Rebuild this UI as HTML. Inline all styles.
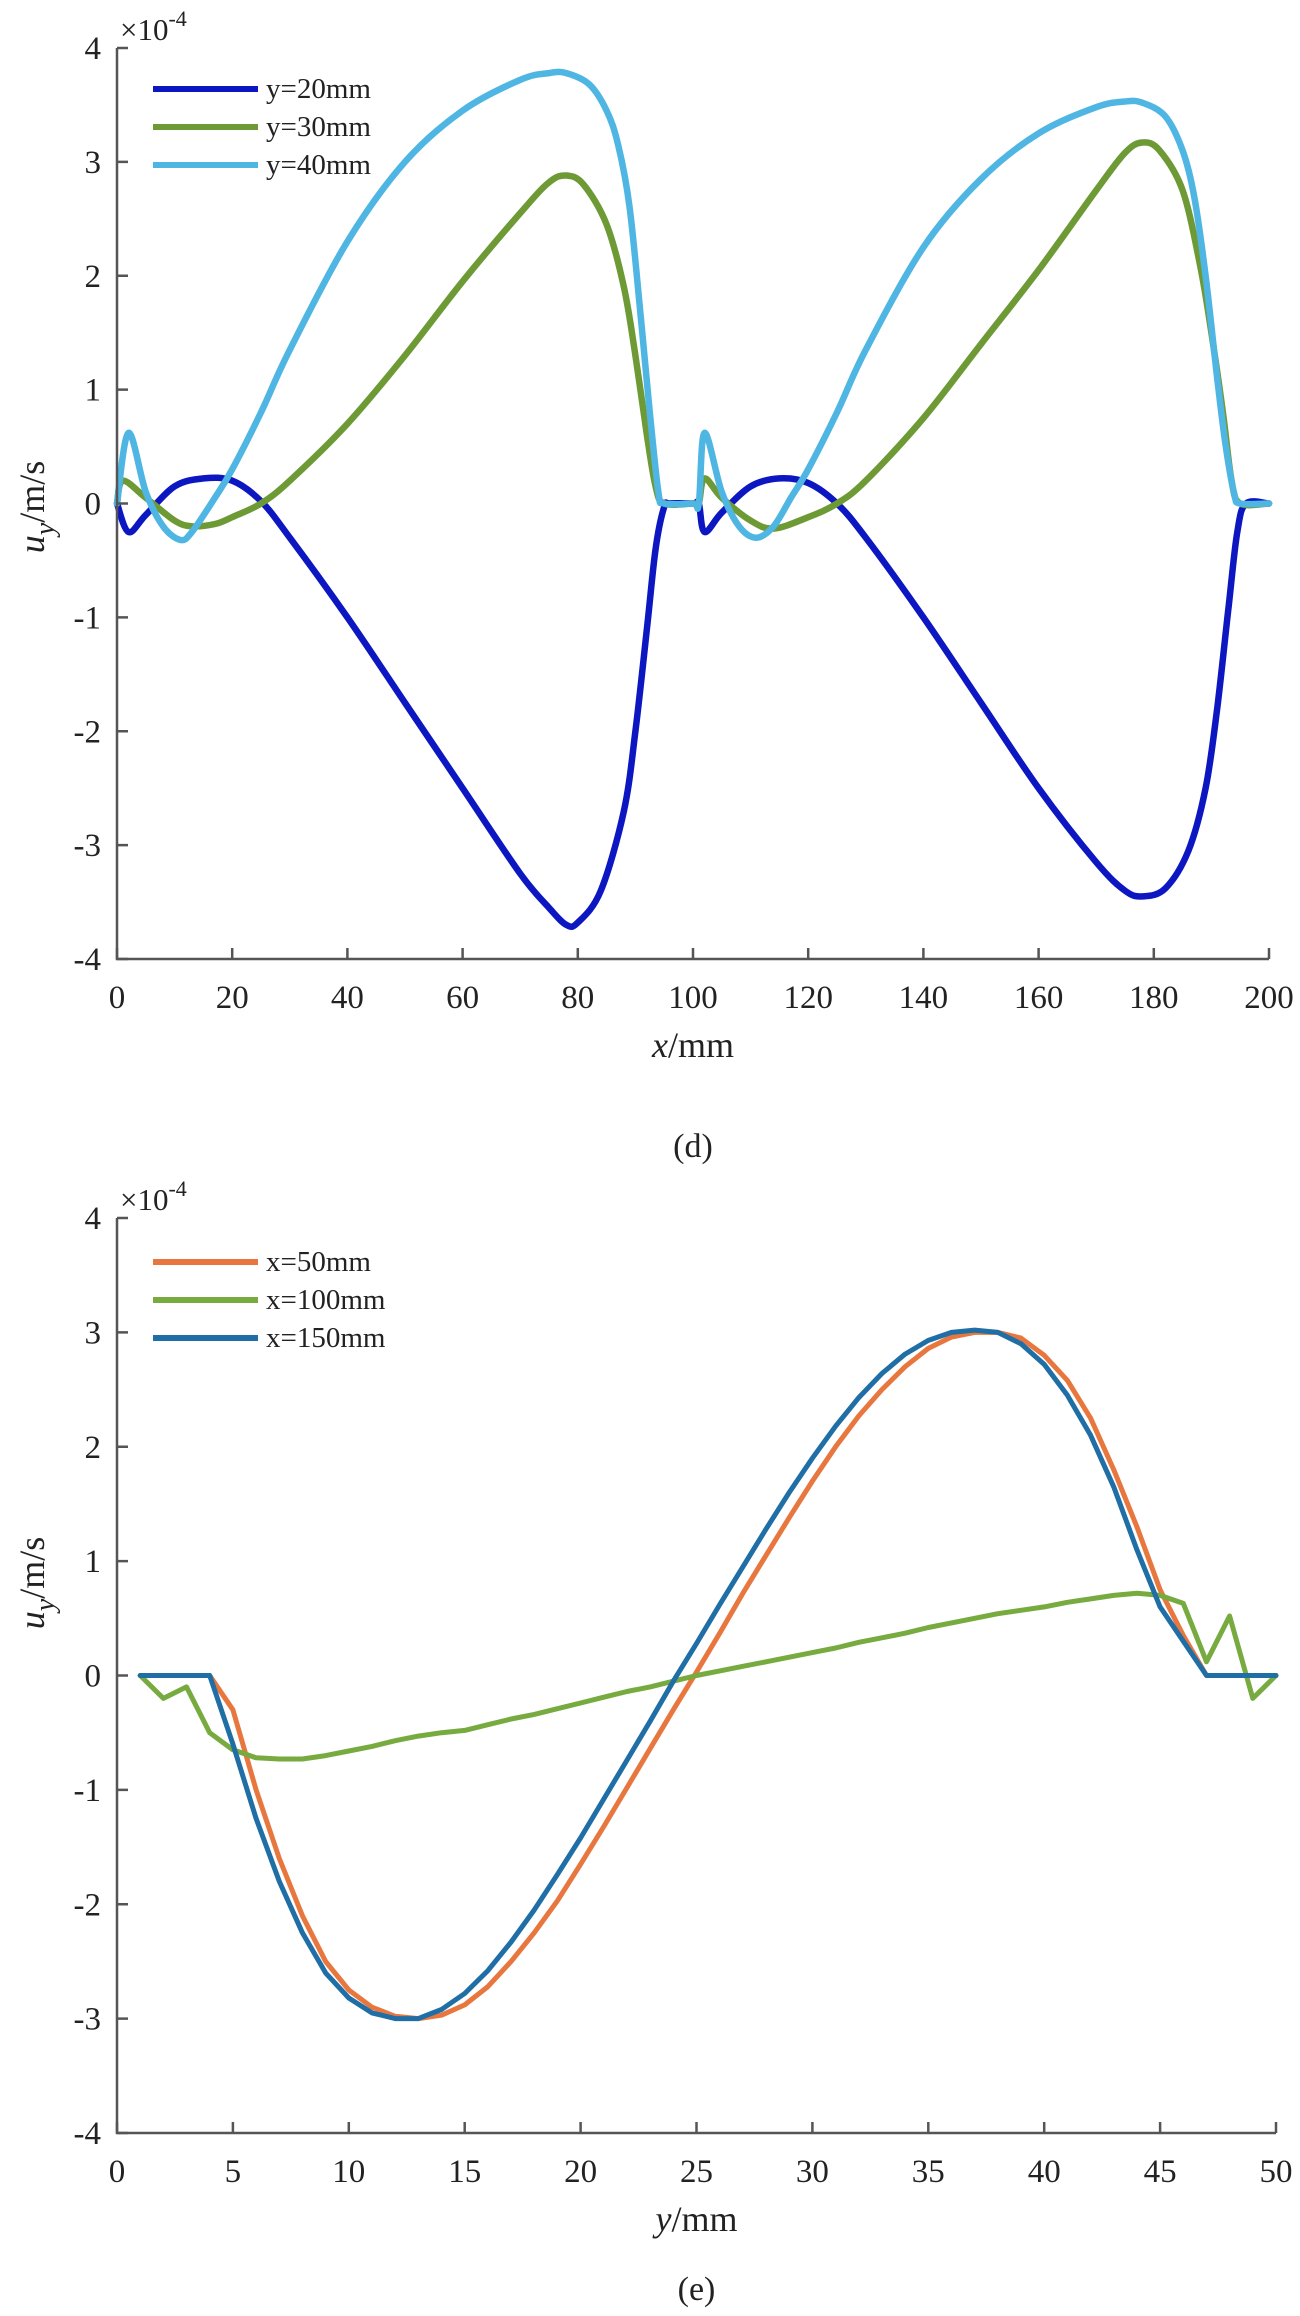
<!DOCTYPE html>
<html><head><meta charset="utf-8">
<style>
html,body{margin:0;padding:0;background:#fff;}
svg{display:block;}
text{font-family:"Liberation Serif",serif;fill:#222;}
</style></head>
<body>
<svg id="fig" width="1300" height="2316" viewBox="0 0 1300 2316" xmlns="http://www.w3.org/2000/svg"></svg>
<script>
// ---- Chart (d) data ----
const dTicksX = [0,20,40,60,80,100,120,140,160,180,200];
const dTicksY = [-4,-3,-2,-1,0,1,2,3,4];
const dNames = ['y=20mm','y=30mm','y=40mm'];
const dX20 = [0,2,5,10,15,20,25,30,40,50,60,70,75,78,80,84,88,90,92,93.5,95,96,100,101,102,105,110,115,120,125,130,140,150,160,170,175,178,182,186,189,191,193,194.5,196,200];
const dY20 = [0,-0.25,-0.1,0.15,0.22,0.2,0.02,-0.3,-1.0,-1.75,-2.5,-3.25,-3.55,-3.7,-3.68,-3.4,-2.7,-2.0,-1.1,-0.4,-0.03,0,0,0,-0.25,-0.08,0.15,0.22,0.18,0,-0.3,-1.0,-1.75,-2.5,-3.15,-3.4,-3.45,-3.38,-3.05,-2.5,-1.8,-0.9,-0.25,0,0];
const dX30 = [0,1,5,10,13,17,20,25,30,40,50,60,70,75,78,81,85,88,90,92,93.5,95,100,101,102,105,110,114,120,125,130,140,150,160,170,175,178,181,185,188,190,192,193.5,195,200];
const dY30 = [0,0.2,0.05,-0.15,-0.2,-0.18,-0.12,0,0.2,0.7,1.3,1.95,2.55,2.82,2.88,2.8,2.45,1.9,1.3,0.6,0.15,0,0,0,0.22,0.05,-0.15,-0.22,-0.12,0,0.2,0.75,1.4,2.05,2.75,3.08,3.17,3.1,2.75,2.1,1.5,0.8,0.2,0,0];
const dX40 = [0,2,5,8,11,13,17,20,25,30,40,50,60,70,75,78,82,85,87,89,91,92.5,94,95,100,101,102,105,108,111,114,117,120,125,130,140,150,160,170,175,178,182,185,187,189,191,192.5,194,195,200];
const dY40 = [0,0.62,0.1,-0.2,-0.32,-0.25,0.05,0.3,0.8,1.35,2.3,3.0,3.45,3.72,3.78,3.78,3.68,3.45,3.15,2.6,1.6,0.8,0.1,0,0,0,0.62,0.1,-0.2,-0.3,-0.2,0.05,0.3,0.8,1.35,2.25,2.85,3.25,3.48,3.53,3.52,3.4,3.1,2.7,2.0,1.1,0.5,0.08,0,0];
// ---- Chart (e) data ----
const eTicksX = [0,5,10,15,20,25,30,35,40,45,50];
const eTicksY = [-4,-3,-2,-1,0,1,2,3,4];
const eNames = ['x=50mm','x=100mm','x=150mm'];
const eX = [1,2,3,4,5,6,7,8,9,10,11,12,13,14,15,16,17,18,19,20,21,22,23,24,25,26,27,28,29,30,31,32,33,34,35,36,37,38,39,40,41,42,43,44,45,46,47,48,49,50];
const eY50 = [0,0,0,0,-0.3,-1.0,-1.6,-2.1,-2.5,-2.75,-2.9,-2.98,-3.0,-2.97,-2.88,-2.72,-2.5,-2.25,-1.97,-1.65,-1.32,-0.98,-0.64,-0.3,0.03,0.37,0.72,1.05,1.38,1.7,2.0,2.27,2.5,2.7,2.86,2.96,3.0,3.0,2.95,2.8,2.58,2.25,1.8,1.3,0.75,0.35,0,0,0,0];
const eY100 = [0,-0.2,-0.1,-0.5,-0.65,-0.72,-0.73,-0.73,-0.7,-0.66,-0.62,-0.57,-0.53,-0.5,-0.48,-0.43,-0.38,-0.34,-0.29,-0.24,-0.19,-0.14,-0.1,-0.05,0,0.04,0.08,0.12,0.16,0.2,0.24,0.29,0.33,0.37,0.42,0.46,0.5,0.54,0.57,0.6,0.64,0.67,0.7,0.72,0.7,0.63,0.12,0.52,-0.2,0];
const eY150 = [0,0,0,0,-0.6,-1.25,-1.8,-2.25,-2.6,-2.82,-2.95,-3.0,-3.0,-2.92,-2.78,-2.58,-2.33,-2.05,-1.74,-1.42,-1.08,-0.74,-0.4,-0.05,0.28,0.62,0.95,1.28,1.6,1.9,2.18,2.43,2.64,2.81,2.93,3.0,3.02,3.0,2.9,2.72,2.45,2.1,1.65,1.1,0.6,0.3,0,0,0,0];

const NS='http://www.w3.org/2000/svg';
const svg=document.getElementById('fig');
function mk(tag,attrs,parent){const e=document.createElementNS(NS,tag);for(const k in attrs)e.setAttribute(k,attrs[k]);(parent||svg).appendChild(e);return e;}

function smoothPath(P){
  let d='M'+P[0][0].toFixed(1)+','+P[0][1].toFixed(1);
  for(let i=0;i<P.length-1;i++){
    const p0=P[Math.max(0,i-1)],p1=P[i],p2=P[i+1],p3=P[Math.min(P.length-1,i+2)];
    const c1x=p1[0]+(p2[0]-p0[0])/6, c1y=p1[1]+(p2[1]-p0[1])/6;
    const c2x=p2[0]-(p3[0]-p1[0])/6, c2y=p2[1]-(p3[1]-p1[1])/6;
    d+=` C${c1x.toFixed(1)},${c1y.toFixed(1)} ${c2x.toFixed(1)},${c2y.toFixed(1)} ${p2[0].toFixed(1)},${p2[1].toFixed(1)}`;
  }
  return d;
}

function chart(cfg){
  const g=mk('g',{});
  
  
  const L=117,R=cfg.right,T=cfg.top,B=cfg.bottom;
  const sx=v=>L+(v-cfg.xmin)/(cfg.xmax-cfg.xmin)*(R-L);
  const sy=v=>B-(v+4)/8*(B-T);
  cfg.series.forEach((s,i)=>{
    const P=s.x.map((xv,j)=>[sx(xv),sy(s.y[j])]);
    let d;
    if(cfg.smooth) d=smoothPath(P);
    else d='M'+P.map(p=>p[0].toFixed(1)+','+p[1].toFixed(1)).join(' L');
    const p=mk('path',{d:d,fill:'none',stroke:s.color,'stroke-width':cfg.lw,'stroke-linejoin':'round','stroke-linecap':'round'},g);
    
    
  });
  const ax=mk('path',{d:`M${L},${T} L${L},${B} L${R},${B}`,fill:'none',stroke:'#555','stroke-width':2.5},g);
  
  
  cfg.ticksX.forEach(t=>{
    const x=sx(t);
    mk('line',{x1:x,y1:B,x2:x,y2:B-11,stroke:'#555','stroke-width':2.5},g);
    const tx=mk('text',{x:x,y:B+49,'font-size':33,'text-anchor':'middle'},g);
    tx.textContent=t;
    
    
  });
  cfg.ticksY.forEach(t=>{
    const y=sy(t);
    mk('line',{x1:L,y1:y,x2:L+11,y2:y,stroke:'#555','stroke-width':2.5},g);
    const ty=mk('text',{x:L-16,y:y+11,'font-size':33,'text-anchor':'end'},g);
    ty.textContent=t;
    
    
  });
  const ex=mk('text',{x:120,y:T-8,'font-size':31},g);
  ex.innerHTML='×10<tspan dy="-14" font-size="22">-4</tspan>';
  
  
  cfg.series.forEach((s,i)=>{
    const y=cfg.legY+i*38;
    const ln=mk('line',{x1:153,y1:y,x2:258,y2:y,stroke:s.color,'stroke-width':6},g);
    
    
    const lt=mk('text',{x:266,y:y+9,'font-size':29},g);
    lt.textContent=s.label;
    
    
  });
  const yl=mk('text',{x:0,y:0,'font-size':36,transform:`translate(44,${cfg.ylabY}) rotate(-90)`,'text-anchor':'middle'},g);
  yl.innerHTML='<tspan font-style="italic">u</tspan><tspan dy="10" font-style="italic" font-size="28">y</tspan><tspan dy="-10">/m/s</tspan>';
  
  
  const xl=mk('text',{x:(L+R)/2,y:B+98,'font-size':36,'text-anchor':'middle'},g);
  xl.innerHTML='<tspan font-style="italic">'+cfg.xvar+'</tspan>/mm';
  
  
  const cap=mk('text',{x:(L+R)/2,y:cfg.capY,'font-size':34,'text-anchor':'middle'},g);
  cap.textContent=cfg.caption;
  
  
}

chart({name:'chart-d',top:48,bottom:959,right:1269,xmin:0,xmax:200,ticksX:dTicksX,ticksY:dTicksY,lw:6.5,smooth:true,
  legY:89,ylabY:507,xvar:'x',caption:'(d)',capY:1157,
  series:[{x:dX20,y:dY20,color:'#0c17c2',label:dNames[0]},{x:dX30,y:dY30,color:'#6e9a36',label:dNames[1]},{x:dX40,y:dY40,color:'#4fb6e3',label:dNames[2]}]});
chart({name:'chart-e',top:1218,bottom:2133,right:1276,xmin:0,xmax:50,ticksX:eTicksX,ticksY:eTicksY,lw:5,smooth:false,
  legY:1262,ylabY:1583,xvar:'y',caption:'(e)',capY:2300,
  series:[{x:eX,y:eY50,color:'#e8773f',label:eNames[0]},{x:eX,y:eY100,color:'#77aa3f',label:eNames[1]},{x:eX,y:eY150,color:'#1f6ea6',label:eNames[2]}]});
</script>
</body></html>
